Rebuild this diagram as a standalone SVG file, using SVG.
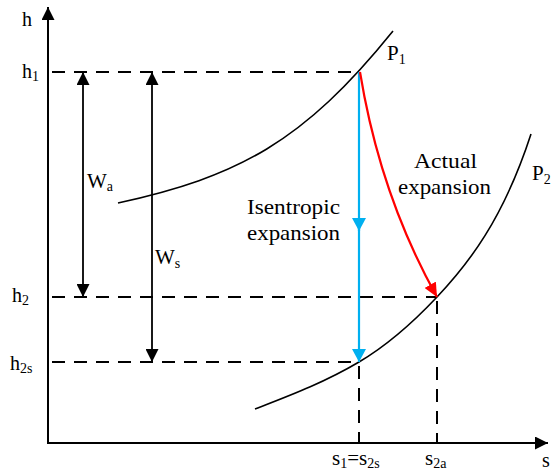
<svg xmlns="http://www.w3.org/2000/svg" width="554" height="470" viewBox="0 0 554 470" font-family="'Liberation Serif', 'Times New Roman', serif">
<style>
  text { fill: #000; }
  .lbl { font-size: 20px; }
  .big { font-size: 21px; }
  .sub { font-size: 14px; }
  .axis { stroke: #000; stroke-width: 2; fill: none; }
  .dash { stroke: #000; stroke-width: 2; fill: none; stroke-dasharray: 13 9; }
  .curve { stroke: #000; stroke-width: 1.6; fill: none; }
  .dim { stroke: #000; stroke-width: 1.8; fill: none; }
  .blue { stroke: #00B0F0; stroke-width: 2.2; fill: none; }
  .red { stroke: #FF0000; stroke-width: 2.2; fill: none; }
</style>
<defs>
  <marker id="ah" markerUnits="userSpaceOnUse" viewBox="0 0 13 13" markerWidth="13" markerHeight="13" refX="13" refY="6.5" orient="auto-start-reverse">
    <path d="M0,0 L13,6.5 L0,13 z" fill="#000"/>
  </marker>
  <marker id="ahb" markerUnits="userSpaceOnUse" viewBox="0 0 13 14" markerWidth="13" markerHeight="14" refX="13" refY="7" orient="auto">
    <path d="M0,0 L13,7 L0,14 z" fill="#00B0F0"/>
  </marker>
  <marker id="ahr" markerUnits="userSpaceOnUse" viewBox="0 0 14 13" markerWidth="14" markerHeight="13" refX="14" refY="6.5" orient="auto">
    <path d="M0,0 L14,6.5 L0,13 z" fill="#FF0000"/>
  </marker>
</defs>

<g id="axes">
  <path class="axis" d="M48,444 V7" marker-end="url(#ah)"/>
  <path class="axis" d="M47,443 H548" marker-end="url(#ah)"/>
  <text class="lbl" x="22" y="26">h</text>
  <text class="lbl" x="542" y="467">s</text>
</g>

<g id="guides">
  <path class="dash" d="M52,72 H360"/>
  <path class="dash" d="M52,297 H437"/>
  <path class="dash" d="M52,362 H359"/>
  <path class="dash" d="M359,366 V443"/>
  <path class="dash" d="M437,301 V443"/>
</g>

<g id="curves">
  <path id="P1-curve" class="curve" d="M118,203 C238,176.6 303,142.6 393,31"/>
  <path id="P2-curve" class="curve" d="M255,409 C290,395.4 324,382.7 359,362 C385,346.7 411,324.6 437,297 C468,264.1 503,220 531,134"/>
</g>

<g id="connectors">
  <path class="dim" d="M83,72 V297" marker-start="url(#ah)" marker-end="url(#ah)"/>
  <path class="dim" d="M152,72 V362" marker-start="url(#ah)" marker-end="url(#ah)"/>
  <path class="blue" d="M359,72 V231" marker-end="url(#ahb)"/>
  <path class="blue" d="M359,225 V362" marker-end="url(#ahb)"/>
  <path class="red" d="M360,72 Q380,195 437,297" marker-end="url(#ahr)"/>
</g>

<g id="labels">
  <text class="lbl" x="22" y="78">h<tspan class="sub" dy="3">1</tspan></text>
  <text class="lbl" x="12" y="302">h<tspan class="sub" dy="3">2</tspan></text>
  <text class="lbl" x="10" y="370">h<tspan class="sub" dy="3">2s</tspan></text>
  <text class="big" x="87" y="188">W<tspan class="sub" dy="3">a</tspan></text>
  <text class="big" x="155" y="264">W<tspan class="sub" dy="4">s</tspan></text>
  <text class="big" x="387" y="60">P<tspan class="sub" dy="4">1</tspan></text>
  <text class="big" x="532" y="180">P<tspan class="sub" dy="4">2</tspan></text>
  <text class="big" x="414" y="168" textLength="63" lengthAdjust="spacingAndGlyphs">Actual</text>
  <text class="big" x="398" y="193.5" textLength="93" lengthAdjust="spacingAndGlyphs">expansion</text>
  <text class="big" x="247" y="214" textLength="93" lengthAdjust="spacingAndGlyphs">Isentropic</text>
  <text class="big" x="247" y="240" textLength="93" lengthAdjust="spacingAndGlyphs">expansion</text>
  <text class="big" x="332" y="465">s<tspan class="sub" dy="3">1</tspan><tspan dy="-3">=s</tspan><tspan class="sub" dy="3">2s</tspan></text>
  <text class="big" x="425" y="465">s<tspan class="sub" dy="3">2a</tspan></text>
</g>
</svg>
